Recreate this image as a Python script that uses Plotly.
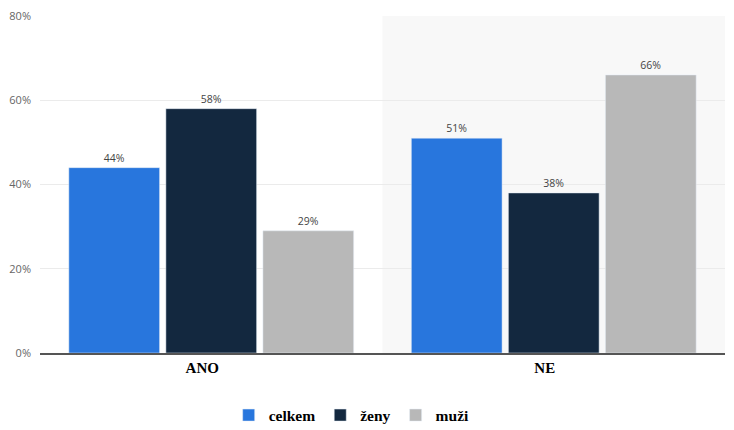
import plotly.graph_objects as go

categories = ["ANO", "NE"]
series_names = ["celkem", "ženy", "muži"]
celkem = [44, 51]
zeny = [58, 38]
muzi = [29, 66]
colors = ["#2876dd", "#13283f", "#b8b8b8"]
y_ticks = [0, 20, 40, 60, 80]

fig = go.Figure()
for name, vals, col in zip(series_names, [celkem, zeny, muzi], colors):
    fig.add_trace(go.Bar(
        x=categories, y=vals, name=f"<b>{name}</b>", marker_color=col,
        text=[f"{v}%" for v in vals], textposition="outside",
        textfont=dict(family="Open Sans", size=10.5, color="#444"),
        cliponaxis=False,
    ))

fig.add_shape(type="rect", xref="x", yref="y", x0=0.5, x1=1.5, y0=0, y1=80,
              fillcolor="#f8f8f8", line_width=0, layer="below")

fig.update_layout(
    width=734, height=430,
    margin=dict(l=40, r=9, t=16, b=77, autoexpand=False),
    plot_bgcolor="white", paper_bgcolor="white",
    barmode="group", bargap=0.15, bargroupgap=0.065,
    showlegend=True,
    legend=dict(orientation="h", x=0.455, xanchor="center", y=-0.135, yanchor="top",
                font=dict(family="Liberation Serif", size=15.5, color="#000"),
                itemwidth=30, traceorder="normal"),
    xaxis=dict(showline=True, linecolor="#555", linewidth=1.5, ticks="",
               tickvals=categories, ticktext=[f"<b>{c}</b>" for c in categories],
               tickfont=dict(family="Liberation Serif", size=15, color="#000"),
               ticklabelshift=-9, range=[-0.5, 1.5]),
    yaxis=dict(range=[0, 80], tickvals=y_ticks, ticktext=[f"{v}%" for v in y_ticks],
               gridcolor="#ebebeb", gridwidth=1, zeroline=False,
               tickfont=dict(family="Open Sans", size=11, color="#666"),
               ticklabelstandoff=8),
)

fig.write_html("out.html")
